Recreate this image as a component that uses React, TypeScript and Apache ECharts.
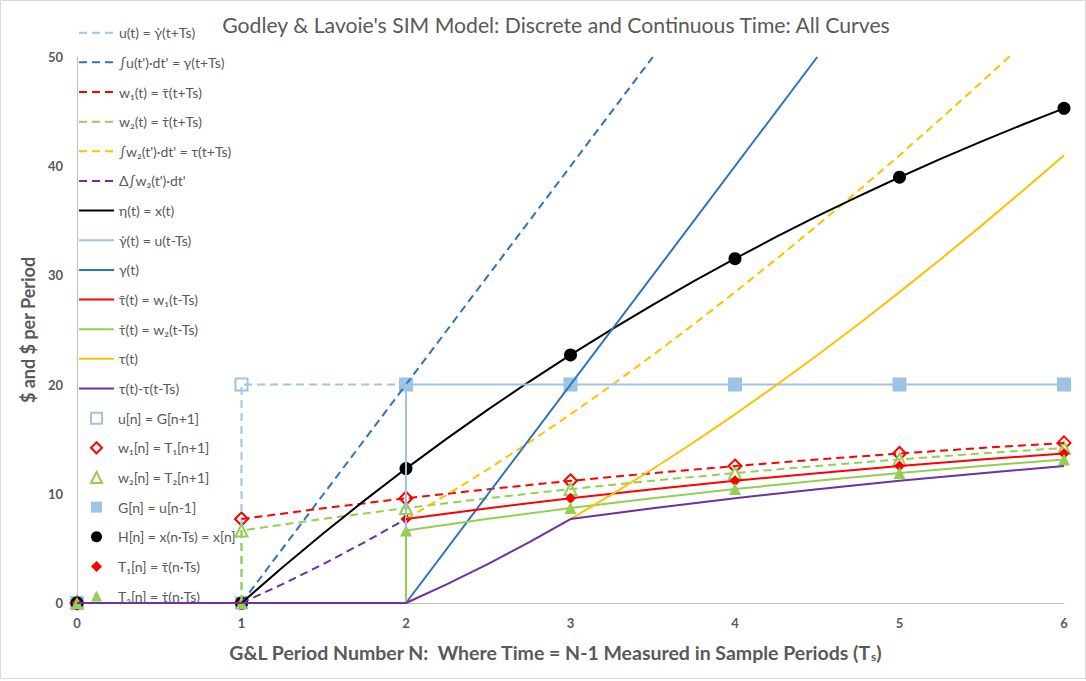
import React, { useEffect, useRef } from 'react';
import * as echarts from 'echarts';

const FONT = 'Lato, "Noto Sans", "DejaVu Sans", sans-serif';

const titleText = "Godley & Lavoie's SIM Model: Discrete and Continuous Time: All Curves";
const yTitle = '$ and $ per Period';

// continuous-time curves: [N, value]
const uFwd = [[1, 0], [1, 20], [2, 20]];
const gammaFwd = [[1, 0], [3.5, 50]];
const w1Fwd = [[1, 7.69], [1.5, 8.68], [2, 9.59], [2.5, 10.42], [3, 11.19], [3.5, 11.89], [4, 12.54], [4.5, 13.14], [5, 13.69], [5.5, 14.2], [6, 14.66]];
const w2Fwd = [[1, 0], [1, 6.64], [1.5, 7.71], [2, 8.69], [2.5, 9.6], [3, 10.43], [3.5, 11.2], [4, 11.9], [4.5, 12.55], [5, 13.15], [5.5, 13.7], [6, 14.2]];
const tauFwd = [[2, 7.69], [2.25, 9.92], [2.5, 12.27], [2.75, 14.72], [3, 17.28], [3.25, 19.94], [3.5, 22.69], [3.75, 25.53], [4, 28.47], [4.25, 31.48], [4.5, 34.58], [4.75, 37.76], [5, 41.01], [5.25, 44.33], [5.5, 47.72], [5.75, 51.18]];
const deltaIntW2 = [[1, 0], [1.25, 1.73], [1.5, 3.59], [1.75, 5.58], [2, 7.69]];
const xCont = [[1, 0], [1.25, 3.27], [1.5, 6.41], [1.75, 9.42], [2, 12.31], [2.25, 15.08], [2.5, 17.73], [2.75, 20.28], [3, 22.72], [3.25, 25.06], [3.5, 27.31], [3.75, 29.47], [4, 31.53], [4.25, 33.52], [4.5, 35.42], [4.75, 37.24], [5, 38.99], [5.25, 40.67], [5.5, 42.28], [5.75, 43.82], [6, 45.3]];
const uLag = [[2, 0], [2, 20], [6, 20]];
const gammaLag = [[2, 0], [4.5, 50]];
const tauBarLag = [[2, 7.69], [2.5, 8.68], [3, 9.59], [3.5, 10.42], [4, 11.19], [4.5, 11.89], [5, 12.54], [5.5, 13.14], [6, 13.69]];
const tauDotLag = [[2, 0], [2, 6.64], [2.5, 7.71], [3, 8.69], [3.5, 9.6], [4, 10.43], [4.5, 11.2], [5, 11.9], [5.5, 12.55], [6, 13.15]];
const tauLag = [[3, 7.69], [3.25, 9.92], [3.5, 12.27], [3.75, 14.72], [4, 17.28], [4.25, 19.94], [4.5, 22.69], [4.75, 25.53], [5, 28.47], [5.25, 31.48], [5.5, 34.58], [5.75, 37.76], [6, 41.01]];
const tauDiff = [[0, 0], [2, 0], [2.25, 1.73], [2.5, 3.59], [2.75, 5.58], [3, 7.69], [3.5, 8.68], [4, 9.59], [4.5, 10.42], [5, 11.19], [5.5, 11.89], [6, 12.54]];

// discrete-time samples
const periods = [0, 1, 2, 3, 4, 5, 6];
const uN = [0, 20, 20, 20, 20, 20, 20];
const w1N = [0, 7.69, 9.59, 11.19, 12.54, 13.69, 14.66];
const w2N = [0, 6.64, 8.69, 10.43, 11.9, 13.15, 14.2];
const GN = [0, 0, 20, 20, 20, 20, 20];
const HN = [0, 0, 12.31, 22.72, 31.53, 38.99, 45.3];
const T1N = [0, 0, 7.69, 9.59, 11.19, 12.54, 13.69];
const T2N = [0, 0, 6.64, 8.69, 10.43, 11.9, 13.15];

const C = {
  lightBlue: '#9DC3E6',
  blue: '#2E75B6',
  red: '#FF0000',
  green: '#92D050',
  orange: '#FFC000',
  purple: '#7030A0',
  black: '#000000',
};

const DASH = [8, 5];

function lineSeries(name: string, data: number[][], color: string, dashed: boolean) {
  return {
    type: 'line',
    name,
    data,
    symbol: 'none',
    clip: true,
    lineStyle: { color, width: 2, type: dashed ? DASH : 'solid', cap: 'butt' },
    itemStyle: { color },
  };
}

function pts(vals: number[]) {
  return periods.map((p, i) => [p, vals[i]]);
}

function scatterSeries(name: string, vals: number[], symbol: string, size: number, color: string, hollow: boolean) {
  return {
    type: 'scatter',
    name,
    data: pts(vals),
    symbol,
    symbolSize: size,
    itemStyle: hollow
      ? { color: '#FFFFFF', borderColor: color, borderWidth: 2, opacity: 1 }
      : { color, opacity: 1 },
  };
}

export default function App() {
  const ref = useRef<HTMLDivElement>(null);
  useEffect(() => {
    if (!ref.current) return;
    const chart = echarts.init(ref.current, undefined, { renderer: 'svg' });
    const series: any[] = [
      lineSeries('u(t) = γ̇(t+Ts)', uFwd, C.lightBlue, true),
      lineSeries("∫u(t')·dt' = γ(t+Ts)", gammaFwd, C.blue, true),
      lineSeries('w₁(t) = τ̄(t+Ts)', w1Fwd, C.red, true),
      lineSeries('w₂(t) = τ̇(t+Ts)', w2Fwd, C.green, true),
      lineSeries("∫w₂(t')·dt' = τ(t+Ts)", tauFwd, C.orange, true),
      lineSeries("Δ∫w₂(t')·dt'", deltaIntW2, C.purple, true),
      lineSeries('η(t) = x(t)', xCont, C.black, false),
      lineSeries('γ̇(t) = u(t-Ts)', uLag, C.lightBlue, false),
      lineSeries('γ(t)', gammaLag, C.blue, false),
      lineSeries('τ̄(t) = w₁(t-Ts)', tauBarLag, C.red, false),
      lineSeries('τ̇(t) = w₂(t-Ts)', tauDotLag, C.green, false),
      lineSeries('τ(t)', tauLag, C.orange, false),
      lineSeries('τ(t)-τ(t-Ts)', tauDiff, C.purple, false),
      scatterSeries('u[n] = G[n+1]', uN, 'rect', 12, C.lightBlue, true),
      scatterSeries('w₁[n] = T₁[n+1]', w1N, 'diamond', 13, C.red, true),
      scatterSeries('w₂[n] = T₂[n+1]', w2N, 'triangle', 12, C.green, true),
      scatterSeries('G[n] = u[n-1]', GN, 'rect', 13, C.lightBlue, false),
      scatterSeries('H[n] = x(n·Ts) = x[n]', HN, 'circle', 13, C.black, false),
      scatterSeries('T₁[n] = τ̄(n·Ts)', T1N, 'diamond', 11, C.red, false),
      scatterSeries('T₂[n] = τ̇(n·Ts)', T2N, 'triangle', 12, C.green, false),
    ];
    const STEP = 29.65;
    const FIRST = 32.7;
    const lineItems = series
      .filter((s) => s.type === 'line')
      .map((s) => ({ name: s.name, itemStyle: { opacity: 0, color: 'transparent', borderWidth: 0 } }));
    const scatterItems = series
      .filter((s) => s.type === 'scatter')
      .map((s) => ({ name: s.name, icon: s.symbol }));
    const legendText = { color: '#595959', fontSize: 14, lineHeight: 16, fontFamily: FONT };
    const axisLabel = { color: '#595959', fontSize: 13, fontWeight: 'bold', fontFamily: FONT };
    chart.setOption({
      animation: false,
      textStyle: { fontFamily: FONT },
      grid: { left: 77, right: 22, top: 57, bottom: 78, containLabel: false },
      xAxis: {
        type: 'value', min: 0, max: 6, interval: 1,
        axisLine: { show: true, lineStyle: { color: '#BFBFBF', width: 1 } },
        axisTick: { show: false },
        splitLine: { show: false },
        axisLabel: { ...axisLabel, margin: 13 },
      },
      yAxis: {
        type: 'value', min: 0, max: 50, interval: 10,
        axisLine: { show: true, lineStyle: { color: '#BFBFBF', width: 1 } },
        axisTick: { show: false },
        splitLine: { show: false },
        axisLabel: { ...axisLabel, margin: 14 },
      },
      legend: [
        {
          orient: 'vertical',
          left: 78,
          top: FIRST - 8,
          padding: 0,
          itemWidth: 35,
          itemHeight: 11,
          itemGap: STEP - 16,
          selectedMode: false,
          textStyle: legendText,
          data: lineItems,
        },
        {
          orient: 'vertical',
          left: 90,
          top: FIRST + 13 * STEP - 8,
          padding: 0,
          itemWidth: 11,
          itemHeight: 11,
          itemGap: STEP - 16,
          selectedMode: false,
          textStyle: { ...legendText, padding: [0, 0, 0, 11] },
          data: scatterItems,
        },
      ],
      graphic: [
        {
          type: 'rect', silent: true,
          shape: { x: 0.5, y: 0.5, width: 1085, height: 678 },
          style: { fill: 'none', stroke: '#D9D9D9', lineWidth: 1 },
        },
        {
          type: 'text', x: 556, y: 25,
          style: { text: titleText, fill: '#595959', fontSize: 21.2, fontFamily: FONT, align: 'center', verticalAlign: 'middle' },
        },
        {
          type: 'text', x: 555, y: 652,
          style: {
            text: '{a|G&L Period Number N:  Where Time = N-1 Measured in Sample Periods (T}{s|s}{a|)}',
            align: 'center', verticalAlign: 'middle',
            rich: {
              a: { fill: '#595959', fontSize: 19.5, fontWeight: 'bold', fontFamily: FONT },
              s: { fill: '#595959', fontSize: 12, fontWeight: 'bold', fontFamily: FONT, padding: [9, 0, 0, 0] },
            },
          },
        },
        {
          type: 'text', x: 28, y: 330, rotation: Math.PI / 2,
          style: { text: yTitle, fill: '#595959', fontSize: 18, fontWeight: 'bold', fontFamily: FONT, align: 'center', verticalAlign: 'middle' },
        },
      ],
      series,
    });
    return () => chart.dispose();
  }, []);
  return <div ref={ref} style={{ position: 'fixed', left: 0, top: 0, width: 1086, height: 681, background: '#fff' }} />;
}
